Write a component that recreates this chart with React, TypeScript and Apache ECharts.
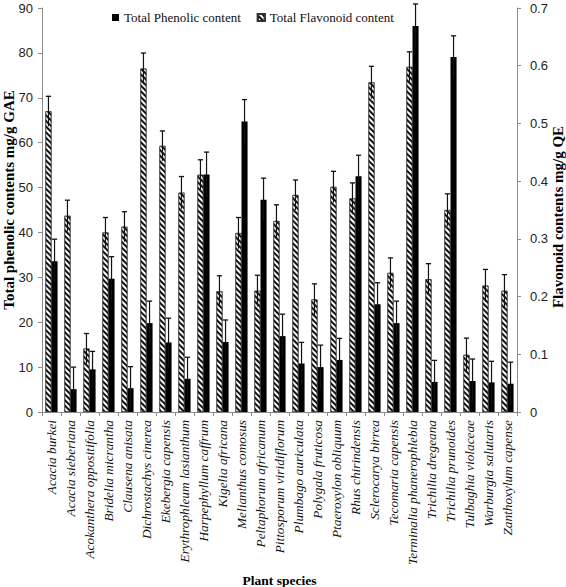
import React, { useEffect, useRef } from "react";
import * as echarts from "echarts";

const categories = [
  "Acacia burkei",
  "Acacia sieberiana",
  "Acokanthera oppositifolia",
  "Bridelia micrantha",
  "Clausena anisata",
  "Dichrostachys cinerea",
  "Ekebergia capensis",
  "Erythrophleum lasianthum",
  "Harpephyllum caffrum",
  "Kigelia africana",
  "Melianthus comosus",
  "Peltaphorum africanum",
  "Pittosporum viridiflorum",
  "Plumbago auriculata",
  "Polygala fruticosa",
  "Ptaeroxylon obliquum",
  "Rhus chirindensis",
  "Sclerocarya birrea",
  "Tecomaria capensis",
  "Terminalia phanerophlebia",
  "Trichilia dregeana",
  "Trichilia prunoides",
  "Tulbaghia violaceae",
  "Warburgia salutaris",
  "Zanthoxylum capense",
];

// Total phenolic content (mg/g GAE), left axis
const phenolic = [33.6, 5.1, 9.5, 29.7, 5.3, 19.8, 15.5, 7.4, 52.9, 15.6, 64.7, 47.3, 16.9, 10.8, 10.0, 11.6, 52.5, 24.0, 19.8, 86.0, 6.7, 79.1, 6.9, 6.6, 6.3];
const phenolicErr = [4.9, 4.9, 4.0, 4.9, 4.8, 4.9, 5.4, 4.8, 5.0, 4.9, 4.9, 4.8, 4.9, 4.7, 4.9, 4.8, 4.7, 4.8, 4.9, 4.9, 4.8, 4.7, 4.9, 4.7, 4.8];

// Total flavonoid content (mg/g QE), right axis
const flavonoid = [0.521, 0.34, 0.11, 0.311, 0.321, 0.595, 0.461, 0.38, 0.411, 0.209, 0.31, 0.21, 0.331, 0.376, 0.195, 0.39, 0.37, 0.571, 0.241, 0.598, 0.23, 0.35, 0.099, 0.219, 0.21];
const flavonoidErr = [0.026, 0.027, 0.026, 0.026, 0.026, 0.027, 0.026, 0.028, 0.026, 0.027, 0.027, 0.027, 0.028, 0.026, 0.027, 0.027, 0.027, 0.028, 0.026, 0.026, 0.027, 0.028, 0.029, 0.028, 0.028];

const leftTicks = { min: 0, max: 90, interval: 10 };
const rightTicks = { min: 0, max: 0.7, interval: 0.1 };

const PHEN = "Total Phenolic content";
const FLAV = "Total Flavonoid content";

const BAR_W = 0.32;

function errorRender(offsetSign: number) {
  return (params: any, api: any) => {
    const idx = api.value(0);
    const v = api.value(1);
    const e = api.value(2);
    const bw = api.size([1, 0])[0];
    const top = api.coord([idx, v + e]);
    const bot = api.coord([idx, v - e]);
    const x = top[0] + offsetSign * bw * (BAR_W / 2);
    const cap = 2.6;
    return {
      type: "group",
      children: [
        {
          type: "line",
          shape: { x1: x, y1: bot[1], x2: x, y2: top[1] },
          style: { stroke: "#111", lineWidth: 1.2 },
        },
        {
          type: "line",
          shape: { x1: x - cap, y1: top[1], x2: x + cap, y2: top[1] },
          style: { stroke: "#111", lineWidth: 1.3 },
        },
      ],
    };
  };
}

export default function App() {
  const ref = useRef<HTMLDivElement>(null);
  useEffect(() => {
    if (!ref.current) return;
    const chart = echarts.init(ref.current, undefined, { renderer: "svg" });
    const axisGrey = "#8c8c8c";
    const option: any = {
      animation: false,
      backgroundColor: "#fff",
      grid: { left: 42, right: 49, top: 8, bottom: 175, containLabel: false, outerBoundsMode: "none" },
      legend: {
        data: [PHEN, FLAV],
        left: 112,
        top: 11,
        padding: 0,
        itemWidth: 7,
        itemHeight: 7,
        itemGap: 16,
        icon: "rect",
        textStyle: { fontFamily: "'Liberation Serif', serif", fontSize: 13, color: "#111" },
      },
      xAxis: {
        type: "category",
        data: categories,
        axisLine: { lineStyle: { color: axisGrey, width: 1 } },
        axisTick: { show: true, length: 4, lineStyle: { color: axisGrey } },
        axisLabel: {
          rotate: 90,
          margin: 8,
          interval: 0,
          fontFamily: "'Liberation Serif', serif",
          fontStyle: "italic",
          fontSize: 13.3,
          color: "#111",
        },
        name: "Plant species",
        nameLocation: "middle",
        nameGap: 161,
        nameTextStyle: { fontFamily: "'Liberation Serif', serif", fontWeight: "bold", fontSize: 13.5, color: "#000" },
      },
      yAxis: [
        {
          type: "value",
          min: leftTicks.min,
          max: leftTicks.max,
          interval: leftTicks.interval,
          axisLine: { show: true, lineStyle: { color: axisGrey } },
          axisTick: { show: true, length: 4, lineStyle: { color: axisGrey } },
          splitLine: { show: false },
          axisLabel: {
            margin: 9,
            fontFamily: "'Liberation Sans', sans-serif",
            fontSize: 13,
            color: "#222",
          },
        },
        {
          type: "value",
          position: "right",
          min: rightTicks.min,
          max: rightTicks.max,
          interval: rightTicks.interval,
          axisLine: { show: true, lineStyle: { color: axisGrey } },
          axisTick: { show: true, length: 4, lineStyle: { color: axisGrey } },
          splitLine: { show: false },
          axisLabel: {
            margin: 13,
            fontFamily: "'Liberation Sans', sans-serif",
            fontSize: 13,
            color: "#222",
            formatter: (v: number) => (v === 0 ? "0" : v.toFixed(1)),
          },
        },
      ],
      graphic: [
        {
          type: "text",
          x: 9,
          y: 200,
          rotation: Math.PI / 2,
          style: {
            text: "Total phenolic contents mg/g GAE",
            font: "bold 15px 'Liberation Serif', serif",
            align: "center",
            verticalAlign: "middle",
            fill: "#000",
          },
        },
        {
          type: "text",
          x: 558,
          y: 217,
          rotation: Math.PI / 2,
          style: {
            text: "Flavonoid contents mg/g QE",
            font: "bold 15px 'Liberation Serif', serif",
            align: "center",
            verticalAlign: "middle",
            fill: "#000",
          },
        },
      ],
      series: [
        {
          name: FLAV,
          type: "bar",
          yAxisIndex: 1,
          data: flavonoid,
          barWidth: BAR_W * 100 + "%",
          barGap: "0%",
          itemStyle: {
            color: "#fff",
            borderColor: "#333",
            borderWidth: 0.6,
            decal: {
              symbol: "rect",
              symbolSize: 1,
              symbolKeepAspect: false,
              color: "#111",
              dashArrayX: [1, 0],
              dashArrayY: [1.2, 1.3],
              rotation: Math.PI / 4,
            },
          },
        },
        {
          name: PHEN,
          type: "bar",
          yAxisIndex: 0,
          data: phenolic,
          barWidth: BAR_W * 100 + "%",
          barGap: "0%",
          itemStyle: { color: "#000" },
        },
        {
          type: "custom",
          name: "flavErr",
          yAxisIndex: 1,
          z: 5,
          renderItem: errorRender(-1),
          data: flavonoid.map((v, i) => [i, v, flavonoidErr[i]]),
          encode: { x: 0, y: 1 },
        },
        {
          type: "custom",
          name: "phenErr",
          yAxisIndex: 0,
          z: 5,
          renderItem: errorRender(1),
          data: phenolic.map((v, i) => [i, v, phenolicErr[i]]),
          encode: { x: 0, y: 1 },
        },
      ],
    };
    chart.setOption(option);
    return () => chart.dispose();
  }, []);
  return (
    <div
      ref={ref}
      style={{ position: "absolute", left: 0, top: 0, width: 566, height: 587, background: "#fff" }}
    />
  );
}
